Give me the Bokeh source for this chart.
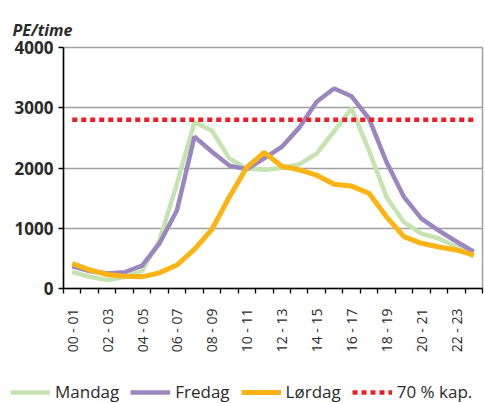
import math
import numpy as np
from bokeh.plotting import figure
from bokeh.layouts import column, row
from bokeh.models import Range1d, FixedTicker, Legend, LegendItem
from bokeh.embed import file_html
from bokeh.resources import INLINE

hours = ["00 - 01", "01 - 02", "02 - 03", "03 - 04", "04 - 05", "05 - 06",
         "06 - 07", "07 - 08", "08 - 09", "09 - 10", "10 - 11", "11 - 12",
         "12 - 13", "13 - 14", "14 - 15", "15 - 16", "16 - 17", "17 - 18",
         "18 - 19", "19 - 20", "20 - 21", "21 - 22", "22 - 23", "23 - 24"]

mandag = [276, 195, 140, 190, 290, 800, 1740, 2760, 2620, 2160, 1990, 1970,
          2000, 2060, 2240, 2610, 2990, 2290, 1520, 1100, 910, 830, 690, 530]
fredag = [370, 290, 250, 270, 380, 750, 1300, 2520, 2270, 2040, 1980, 2160,
          2350, 2670, 3100, 3320, 3190, 2820, 2100, 1520, 1160, 960, 780, 610]
lordag = [415, 310, 232, 204, 193, 260, 390, 650, 980, 1520, 2010, 2260,
          2030, 1970, 1880, 1730, 1700, 1580, 1190, 860, 750, 690, 640, 555]
kap70 = [2800] * 24

series_names = ["Mandag", "Fredag", "Lørdag", "70 % kap."]
y_ticks = [0, 1000, 2000, 3000, 4000]

FONT = "Open Sans"
TXT = "#2a2a2a"
styles = [
    dict(line_color="#c5e4b2", line_width=4.5),
    dict(line_color="#9b86bf", line_width=4.5),
    dict(line_color="#fbb414", line_width=5),
    dict(line_color="#ee1c25", line_width=4.5, line_dash="5 4", line_cap="butt"),
]
series = [mandag, fredag, lordag, kap70]

p = figure(width=485, height=375, output_backend="svg", toolbar_location=None,
           x_range=Range1d(0, 24), y_range=Range1d(0, 4000),
           min_border_left=63, min_border_right=3, min_border_top=47,
           min_border_bottom=87)

p.title.text = "PE/time"
p.title.text_font = FONT
p.title.text_font_style = "bold italic"
p.title.text_font_size = "16px"
p.title.text_color = TXT
p.title.align = "left"
p.title.offset = -51
p.title.standoff = 13

xs = np.arange(len(hours)) + 0.5
for vals, st in zip(series, styles):
    p.line(xs, vals, **st)

# x axis
label_pos = [float(x) for x in xs[::2]]
p.xaxis.ticker = FixedTicker(ticks=label_pos, minor_ticks=list(range(25)))
p.xaxis.major_label_overrides = {pos: hours[i * 2] for i, pos in enumerate(label_pos)}
p.xaxis.major_label_orientation = math.pi / 2
p.xaxis.major_tick_line_color = None
p.xaxis.major_tick_out = 0
p.xaxis.major_tick_in = 0
p.xaxis.minor_tick_line_color = "black"
p.xaxis.minor_tick_out = 5
p.xaxis.minor_tick_in = 0
p.xaxis.minor_tick_line_width = 1.3
p.xaxis.axis_line_color = "black"
p.xaxis.axis_line_width = 1.5
p.xaxis.major_label_text_font = FONT
p.xaxis.major_label_text_font_size = "14px"
p.xaxis.major_label_text_color = TXT
p.xaxis.major_label_standoff = 15

# y axis
p.yaxis.ticker = FixedTicker(ticks=y_ticks, minor_ticks=[])
p.yaxis.major_tick_out = 5
p.yaxis.major_tick_in = 0
p.yaxis.major_tick_line_color = "black"
p.yaxis.major_tick_line_width = 1.3
p.yaxis.axis_line_color = "black"
p.yaxis.axis_line_width = 1.5
p.yaxis.major_label_text_font = FONT
p.yaxis.major_label_text_font_size = "17px"
p.yaxis.major_label_text_font_style = "bold"
p.yaxis.major_label_text_color = TXT
p.yaxis.major_label_standoff = 5

p.xgrid.grid_line_color = None
p.ygrid.ticker = FixedTicker(ticks=y_ticks)
p.ygrid.grid_line_color = "#a0a0a0"
p.ygrid.grid_line_width = 1.5

p.outline_line_color = "#a0a0a0"
p.outline_line_width = 1.5

# legend strip below the chart (series drawn out of view, only the legend shows)
lg = figure(width=485, height=28, output_backend="svg", toolbar_location=None,
            x_axis_type=None, y_axis_type=None, min_border=0,
            x_range=Range1d(1000, 1001), y_range=Range1d(0, 1))
lg.outline_line_color = None
lg.xgrid.grid_line_color = None
lg.ygrid.grid_line_color = None
items = []
for name, vals, st in zip(series_names, series, styles):
    r = lg.line(xs, vals, **st)
    items.append(LegendItem(label=name, renderers=[r]))
legend = Legend(items=items, location=(10, 0), orientation="horizontal")
legend.label_text_font = FONT
legend.label_text_font_size = "17px"
legend.label_text_color = TXT
legend.glyph_width = 40
legend.glyph_height = 18
legend.label_height = 18
legend.label_standoff = 5
legend.spacing = 11
legend.padding = 0
legend.margin = 0
legend.border_line_color = None
legend.background_fill_alpha = 0
lg.add_layout(legend, "center")

open("out.html", "w").write(file_html(column(p, row(lg), spacing=0), INLINE))
